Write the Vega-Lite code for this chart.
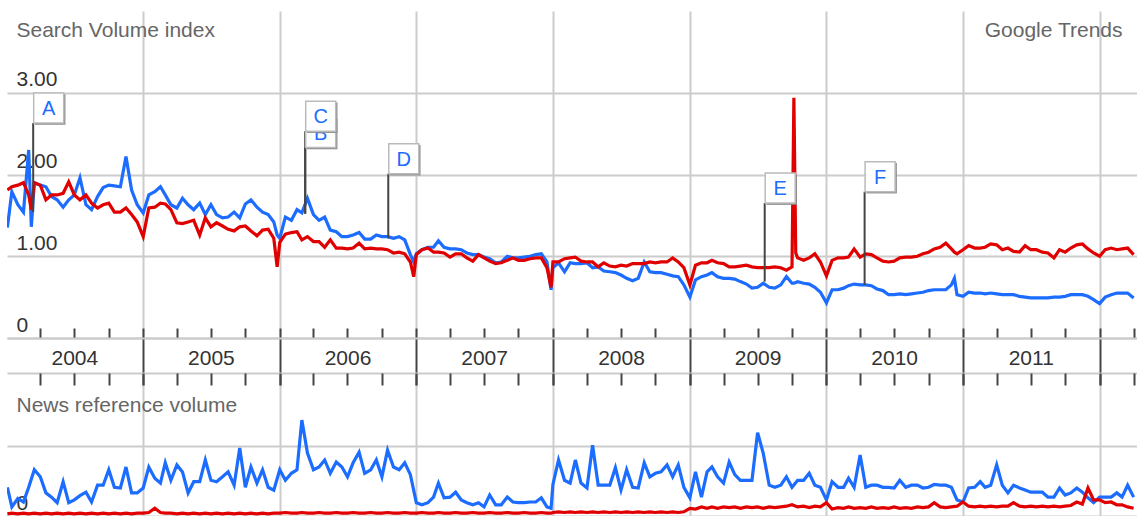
{
"$schema":"https://vega.github.io/schema/vega-lite/v6.json",
"padding":{"left":7,"top":11,"right":0,"bottom":0},
"bounds":"flush",
"spacing":0,
"resolve":{"scale":{"x":"independent","y":"independent"}},
"config":{"view":{"stroke":null},"font":"Liberation Sans"},
"datasets":{
"search":[
{"date":"2004-01-04","Term 1":1.35,"Term 2":1.81},{"date":"2004-01-16","Term 1":1.79,"Term 2":1.85},{"date":"2004-02-01","Term 1":1.63,"Term 2":1.87},{"date":"2004-02-16","Term 1":1.54,"Term 2":1.90},{"date":"2004-03-01","Term 1":2.30,"Term 2":1.75},{"date":"2004-03-08","Term 1":1.36,"Term 2":1.57},{"date":"2004-03-16","Term 1":1.90,"Term 2":1.90},{"date":"2004-04-01","Term 1":1.87,"Term 2":1.87},{"date":"2004-04-16","Term 1":1.85,"Term 2":1.69},{"date":"2004-05-01","Term 1":1.73,"Term 2":1.75},{"date":"2004-05-16","Term 1":1.69,"Term 2":1.75},{"date":"2004-06-01","Term 1":1.60,"Term 2":1.77},{"date":"2004-06-16","Term 1":1.69,"Term 2":1.91},{"date":"2004-07-01","Term 1":1.75,"Term 2":1.75},{"date":"2004-07-16","Term 1":1.96,"Term 2":1.69},{"date":"2004-08-01","Term 1":1.63,"Term 2":1.75},{"date":"2004-08-16","Term 1":1.57,"Term 2":1.65},{"date":"2004-09-01","Term 1":1.73,"Term 2":1.59},{"date":"2004-09-16","Term 1":1.84,"Term 2":1.63},{"date":"2004-10-01","Term 1":1.87,"Term 2":1.65},{"date":"2004-10-16","Term 1":1.86,"Term 2":1.54},{"date":"2004-11-01","Term 1":1.85,"Term 2":1.54},{"date":"2004-11-16","Term 1":2.22,"Term 2":1.59},{"date":"2004-12-01","Term 1":1.81,"Term 2":1.51},{"date":"2004-12-16","Term 1":1.63,"Term 2":1.42},
{"date":"2005-01-01","Term 1":1.53,"Term 2":1.24},{"date":"2005-01-16","Term 1":1.75,"Term 2":1.59},{"date":"2005-02-01","Term 1":1.79,"Term 2":1.60},{"date":"2005-02-16","Term 1":1.85,"Term 2":1.65},{"date":"2005-03-01","Term 1":1.75,"Term 2":1.64},{"date":"2005-03-16","Term 1":1.63,"Term 2":1.57},{"date":"2005-04-01","Term 1":1.59,"Term 2":1.41},{"date":"2005-04-16","Term 1":1.71,"Term 2":1.40},{"date":"2005-05-01","Term 1":1.63,"Term 2":1.42},{"date":"2005-05-16","Term 1":1.57,"Term 2":1.44},{"date":"2005-06-01","Term 1":1.65,"Term 2":1.26},{"date":"2005-06-16","Term 1":1.51,"Term 2":1.47},{"date":"2005-07-01","Term 1":1.63,"Term 2":1.36},{"date":"2005-07-16","Term 1":1.51,"Term 2":1.41},{"date":"2005-08-01","Term 1":1.47,"Term 2":1.37},{"date":"2005-08-16","Term 1":1.48,"Term 2":1.33},{"date":"2005-09-01","Term 1":1.54,"Term 2":1.31},{"date":"2005-09-16","Term 1":1.47,"Term 2":1.36},{"date":"2005-10-01","Term 1":1.64,"Term 2":1.37},{"date":"2005-10-16","Term 1":1.69,"Term 2":1.31},{"date":"2005-11-01","Term 1":1.60,"Term 2":1.25},{"date":"2005-11-16","Term 1":1.54,"Term 2":1.32},{"date":"2005-12-01","Term 1":1.51,"Term 2":1.33},{"date":"2005-12-16","Term 1":1.42,"Term 2":1.22},{"date":"2005-12-25","Term 1":1.26,"Term 2":0.87},
{"date":"2006-01-01","Term 1":1.22,"Term 2":1.17},{"date":"2006-01-16","Term 1":1.48,"Term 2":1.27},{"date":"2006-02-01","Term 1":1.44,"Term 2":1.29},{"date":"2006-02-16","Term 1":1.57,"Term 2":1.30},{"date":"2006-03-01","Term 1":1.53,"Term 2":1.20},{"date":"2006-03-16","Term 1":1.71,"Term 2":1.24},{"date":"2006-04-01","Term 1":1.51,"Term 2":1.18},{"date":"2006-04-16","Term 1":1.44,"Term 2":1.18},{"date":"2006-05-01","Term 1":1.48,"Term 2":1.11},{"date":"2006-05-16","Term 1":1.32,"Term 2":1.20},{"date":"2006-06-01","Term 1":1.30,"Term 2":1.10},{"date":"2006-06-16","Term 1":1.24,"Term 2":1.10},{"date":"2006-07-01","Term 1":1.24,"Term 2":1.09},{"date":"2006-07-16","Term 1":1.26,"Term 2":1.10},{"date":"2006-08-01","Term 1":1.29,"Term 2":1.16},{"date":"2006-08-16","Term 1":1.21,"Term 2":1.09},{"date":"2006-09-01","Term 1":1.21,"Term 2":1.10},{"date":"2006-09-16","Term 1":1.26,"Term 2":1.09},{"date":"2006-10-01","Term 1":1.24,"Term 2":1.09},{"date":"2006-10-16","Term 1":1.24,"Term 2":1.08},{"date":"2006-11-01","Term 1":1.22,"Term 2":1.04},{"date":"2006-11-16","Term 1":1.24,"Term 2":1.05},{"date":"2006-12-01","Term 1":1.20,"Term 2":1.03},{"date":"2006-12-16","Term 1":1.02,"Term 2":0.93},{"date":"2006-12-25","Term 1":0.93,"Term 2":0.75},
{"date":"2007-01-01","Term 1":1.03,"Term 2":1.02},{"date":"2007-01-16","Term 1":1.08,"Term 2":1.08},{"date":"2007-02-01","Term 1":1.11,"Term 2":1.10},{"date":"2007-02-16","Term 1":1.11,"Term 2":1.05},{"date":"2007-03-01","Term 1":1.19,"Term 2":1.05},{"date":"2007-03-16","Term 1":1.11,"Term 2":1.04},{"date":"2007-04-01","Term 1":1.09,"Term 2":0.99},{"date":"2007-04-16","Term 1":1.09,"Term 2":1.03},{"date":"2007-05-01","Term 1":1.08,"Term 2":1.03},{"date":"2007-05-16","Term 1":1.04,"Term 2":0.98},{"date":"2007-06-01","Term 1":1.02,"Term 2":0.94},{"date":"2007-06-16","Term 1":1.02,"Term 2":1.02},{"date":"2007-07-01","Term 1":0.99,"Term 2":0.98},{"date":"2007-07-16","Term 1":0.97,"Term 2":0.94},{"date":"2007-08-01","Term 1":0.92,"Term 2":0.91},{"date":"2007-08-16","Term 1":0.93,"Term 2":0.92},{"date":"2007-09-01","Term 1":1.00,"Term 2":0.95},{"date":"2007-09-16","Term 1":0.98,"Term 2":0.98},{"date":"2007-10-01","Term 1":0.98,"Term 2":0.95},{"date":"2007-10-16","Term 1":0.99,"Term 2":0.95},{"date":"2007-11-01","Term 1":1.00,"Term 2":0.97},{"date":"2007-11-16","Term 1":1.02,"Term 2":0.98},{"date":"2007-12-01","Term 1":1.03,"Term 2":0.98},{"date":"2007-12-16","Term 1":0.93,"Term 2":0.86},{"date":"2007-12-27","Term 1":0.59,"Term 2":0.62},
{"date":"2008-01-01","Term 1":0.86,"Term 2":0.93},{"date":"2008-01-16","Term 1":0.92,"Term 2":0.93},{"date":"2008-02-01","Term 1":0.81,"Term 2":0.97},{"date":"2008-02-16","Term 1":0.92,"Term 2":0.98},{"date":"2008-03-01","Term 1":0.91,"Term 2":0.99},{"date":"2008-03-16","Term 1":0.91,"Term 2":0.94},{"date":"2008-04-01","Term 1":0.92,"Term 2":0.93},{"date":"2008-04-16","Term 1":0.86,"Term 2":0.93},{"date":"2008-05-01","Term 1":0.87,"Term 2":0.87},{"date":"2008-05-16","Term 1":0.82,"Term 2":0.92},{"date":"2008-06-01","Term 1":0.81,"Term 2":0.88},{"date":"2008-06-16","Term 1":0.80,"Term 2":0.87},{"date":"2008-07-01","Term 1":0.77,"Term 2":0.89},{"date":"2008-07-16","Term 1":0.73,"Term 2":0.88},{"date":"2008-08-01","Term 1":0.70,"Term 2":0.91},{"date":"2008-08-16","Term 1":0.73,"Term 2":0.91},{"date":"2008-09-01","Term 1":0.93,"Term 2":0.91},{"date":"2008-09-16","Term 1":0.81,"Term 2":0.93},{"date":"2008-10-01","Term 1":0.80,"Term 2":0.92},{"date":"2008-10-16","Term 1":0.80,"Term 2":0.93},{"date":"2008-11-01","Term 1":0.78,"Term 2":0.93},{"date":"2008-11-16","Term 1":0.76,"Term 2":0.98},{"date":"2008-12-01","Term 1":0.75,"Term 2":0.93},{"date":"2008-12-16","Term 1":0.65,"Term 2":0.86},
{"date":"2009-01-01","Term 1":0.50,"Term 2":0.65},{"date":"2009-01-16","Term 1":0.71,"Term 2":0.89},{"date":"2009-02-01","Term 1":0.75,"Term 2":0.92},{"date":"2009-02-16","Term 1":0.77,"Term 2":0.92},{"date":"2009-03-01","Term 1":0.80,"Term 2":0.95},{"date":"2009-03-16","Term 1":0.75,"Term 2":0.92},{"date":"2009-04-01","Term 1":0.73,"Term 2":0.91},{"date":"2009-04-16","Term 1":0.73,"Term 2":0.87},{"date":"2009-05-01","Term 1":0.72,"Term 2":0.87},{"date":"2009-05-16","Term 1":0.69,"Term 2":0.88},{"date":"2009-06-01","Term 1":0.66,"Term 2":0.89},{"date":"2009-06-16","Term 1":0.61,"Term 2":0.87},{"date":"2009-07-01","Term 1":0.62,"Term 2":0.86},{"date":"2009-07-16","Term 1":0.67,"Term 2":0.86},{"date":"2009-08-01","Term 1":0.62,"Term 2":0.86},{"date":"2009-08-16","Term 1":0.61,"Term 2":0.87},{"date":"2009-09-01","Term 1":0.65,"Term 2":0.86},{"date":"2009-09-16","Term 1":0.75,"Term 2":0.83},{"date":"2009-10-01","Term 1":0.67,"Term 2":0.87},{"date":"2009-10-06","Term 1":0.67,"Term 2":2.94},{"date":"2009-10-11","Term 1":0.68,"Term 2":1.04},{"date":"2009-10-16","Term 1":0.69,"Term 2":0.98},{"date":"2009-11-01","Term 1":0.67,"Term 2":0.95},{"date":"2009-11-16","Term 1":0.66,"Term 2":0.98},{"date":"2009-12-01","Term 1":0.62,"Term 2":1.03},{"date":"2009-12-16","Term 1":0.56,"Term 2":0.93},
{"date":"2010-01-01","Term 1":0.43,"Term 2":0.76},{"date":"2010-01-16","Term 1":0.59,"Term 2":0.95},{"date":"2010-02-01","Term 1":0.59,"Term 2":0.98},{"date":"2010-02-16","Term 1":0.61,"Term 2":0.98},{"date":"2010-03-01","Term 1":0.64,"Term 2":0.99},{"date":"2010-03-16","Term 1":0.66,"Term 2":1.09},{"date":"2010-04-01","Term 1":0.65,"Term 2":0.99},{"date":"2010-04-16","Term 1":0.65,"Term 2":1.03},{"date":"2010-05-01","Term 1":0.64,"Term 2":1.02},{"date":"2010-05-16","Term 1":0.60,"Term 2":0.98},{"date":"2010-06-01","Term 1":0.58,"Term 2":0.94},{"date":"2010-06-16","Term 1":0.53,"Term 2":0.93},{"date":"2010-07-01","Term 1":0.53,"Term 2":0.94},{"date":"2010-07-16","Term 1":0.54,"Term 2":0.98},{"date":"2010-08-01","Term 1":0.53,"Term 2":0.99},{"date":"2010-08-16","Term 1":0.54,"Term 2":0.99},{"date":"2010-09-01","Term 1":0.55,"Term 2":1.00},{"date":"2010-09-16","Term 1":0.56,"Term 2":1.03},{"date":"2010-10-01","Term 1":0.58,"Term 2":1.05},{"date":"2010-10-16","Term 1":0.59,"Term 2":1.09},{"date":"2010-11-01","Term 1":0.59,"Term 2":1.11},{"date":"2010-11-16","Term 1":0.59,"Term 2":1.16},{"date":"2010-12-01","Term 1":0.65,"Term 2":1.09},{"date":"2010-12-09","Term 1":0.73,"Term 2":1.05},{"date":"2010-12-16","Term 1":0.53,"Term 2":1.03},
{"date":"2011-01-01","Term 1":0.51,"Term 2":1.08},{"date":"2011-01-16","Term 1":0.56,"Term 2":1.13},{"date":"2011-02-01","Term 1":0.55,"Term 2":1.10},{"date":"2011-02-16","Term 1":0.55,"Term 2":1.10},{"date":"2011-03-01","Term 1":0.54,"Term 2":1.11},{"date":"2011-03-16","Term 1":0.55,"Term 2":1.15},{"date":"2011-04-01","Term 1":0.54,"Term 2":1.14},{"date":"2011-04-16","Term 1":0.53,"Term 2":1.08},{"date":"2011-05-01","Term 1":0.53,"Term 2":1.10},{"date":"2011-05-16","Term 1":0.53,"Term 2":1.06},{"date":"2011-06-01","Term 1":0.51,"Term 2":1.05},{"date":"2011-06-16","Term 1":0.50,"Term 2":1.13},{"date":"2011-07-01","Term 1":0.49,"Term 2":1.08},{"date":"2011-07-16","Term 1":0.49,"Term 2":1.08},{"date":"2011-08-01","Term 1":0.49,"Term 2":1.05},{"date":"2011-08-16","Term 1":0.49,"Term 2":1.04},{"date":"2011-09-01","Term 1":0.50,"Term 2":0.98},{"date":"2011-09-16","Term 1":0.50,"Term 2":1.08},{"date":"2011-10-01","Term 1":0.51,"Term 2":1.05},{"date":"2011-10-16","Term 1":0.53,"Term 2":1.10},{"date":"2011-11-01","Term 1":0.53,"Term 2":1.14},{"date":"2011-11-16","Term 1":0.53,"Term 2":1.15},{"date":"2011-12-01","Term 1":0.51,"Term 2":1.09},{"date":"2011-12-16","Term 1":0.47,"Term 2":1.04},
{"date":"2012-01-01","Term 1":0.42,"Term 2":1.00},{"date":"2012-01-16","Term 1":0.50,"Term 2":1.08},{"date":"2012-02-01","Term 1":0.53,"Term 2":1.10},{"date":"2012-02-16","Term 1":0.55,"Term 2":1.08},{"date":"2012-03-01","Term 1":0.55,"Term 2":1.09},{"date":"2012-03-16","Term 1":0.55,"Term 2":1.10},{"date":"2012-04-01","Term 1":0.49,"Term 2":1.02}
],
"news":[
{"date":"2004-01-04","Term 1":0.41,"Term 2":0.03},{"date":"2004-01-16","Term 1":0.13,"Term 2":0.04},{"date":"2004-02-01","Term 1":0.25,"Term 2":0.03},{"date":"2004-02-16","Term 1":0.20,"Term 2":0.04},{"date":"2004-03-01","Term 1":0.41,"Term 2":0.03},{"date":"2004-03-16","Term 1":0.66,"Term 2":0.04},{"date":"2004-04-01","Term 1":0.56,"Term 2":0.03},{"date":"2004-04-16","Term 1":0.33,"Term 2":0.04},{"date":"2004-05-01","Term 1":0.27,"Term 2":0.03},{"date":"2004-05-16","Term 1":0.19,"Term 2":0.04},{"date":"2004-06-01","Term 1":0.49,"Term 2":0.03},{"date":"2004-06-16","Term 1":0.19,"Term 2":0.04},{"date":"2004-07-01","Term 1":0.23,"Term 2":0.03},{"date":"2004-07-16","Term 1":0.29,"Term 2":0.04},{"date":"2004-08-01","Term 1":0.34,"Term 2":0.03},{"date":"2004-08-16","Term 1":0.20,"Term 2":0.04},{"date":"2004-09-01","Term 1":0.44,"Term 2":0.03},{"date":"2004-09-16","Term 1":0.44,"Term 2":0.04},{"date":"2004-10-01","Term 1":0.66,"Term 2":0.03},{"date":"2004-10-16","Term 1":0.41,"Term 2":0.04},{"date":"2004-11-01","Term 1":0.40,"Term 2":0.03},{"date":"2004-11-16","Term 1":0.70,"Term 2":0.04},{"date":"2004-12-01","Term 1":0.33,"Term 2":0.03},{"date":"2004-12-16","Term 1":0.33,"Term 2":0.04},
{"date":"2005-01-01","Term 1":0.40,"Term 2":0.04},{"date":"2005-01-16","Term 1":0.70,"Term 2":0.05},{"date":"2005-02-01","Term 1":0.54,"Term 2":0.11},{"date":"2005-02-16","Term 1":0.47,"Term 2":0.05},{"date":"2005-03-01","Term 1":0.76,"Term 2":0.04},{"date":"2005-03-16","Term 1":0.51,"Term 2":0.04},{"date":"2005-04-01","Term 1":0.73,"Term 2":0.03},{"date":"2005-04-16","Term 1":0.63,"Term 2":0.04},{"date":"2005-05-01","Term 1":0.33,"Term 2":0.03},{"date":"2005-05-16","Term 1":0.49,"Term 2":0.04},{"date":"2005-06-01","Term 1":0.49,"Term 2":0.03},{"date":"2005-06-16","Term 1":0.80,"Term 2":0.04},{"date":"2005-07-01","Term 1":0.51,"Term 2":0.03},{"date":"2005-07-16","Term 1":0.49,"Term 2":0.04},{"date":"2005-08-01","Term 1":0.56,"Term 2":0.03},{"date":"2005-08-16","Term 1":0.63,"Term 2":0.04},{"date":"2005-09-01","Term 1":0.44,"Term 2":0.03},{"date":"2005-09-16","Term 1":0.97,"Term 2":0.04},{"date":"2005-10-01","Term 1":0.41,"Term 2":0.03},{"date":"2005-10-16","Term 1":0.70,"Term 2":0.04},{"date":"2005-11-01","Term 1":0.47,"Term 2":0.03},{"date":"2005-11-16","Term 1":0.66,"Term 2":0.04},{"date":"2005-12-01","Term 1":0.41,"Term 2":0.03},{"date":"2005-12-16","Term 1":0.37,"Term 2":0.04},
{"date":"2006-01-01","Term 1":0.66,"Term 2":0.04},{"date":"2006-01-16","Term 1":0.51,"Term 2":0.05},{"date":"2006-02-01","Term 1":0.61,"Term 2":0.04},{"date":"2006-02-16","Term 1":0.66,"Term 2":0.04},{"date":"2006-03-01","Term 1":1.37,"Term 2":0.05},{"date":"2006-03-16","Term 1":0.90,"Term 2":0.04},{"date":"2006-04-01","Term 1":0.66,"Term 2":0.04},{"date":"2006-04-16","Term 1":0.70,"Term 2":0.05},{"date":"2006-05-01","Term 1":0.80,"Term 2":0.04},{"date":"2006-05-16","Term 1":0.61,"Term 2":0.04},{"date":"2006-06-01","Term 1":0.77,"Term 2":0.05},{"date":"2006-06-16","Term 1":0.70,"Term 2":0.04},{"date":"2006-07-01","Term 1":0.56,"Term 2":0.04},{"date":"2006-07-16","Term 1":0.76,"Term 2":0.05},{"date":"2006-08-01","Term 1":0.91,"Term 2":0.04},{"date":"2006-08-16","Term 1":0.61,"Term 2":0.04},{"date":"2006-09-01","Term 1":0.66,"Term 2":0.05},{"date":"2006-09-16","Term 1":0.80,"Term 2":0.04},{"date":"2006-10-01","Term 1":0.56,"Term 2":0.04},{"date":"2006-10-16","Term 1":0.94,"Term 2":0.05},{"date":"2006-11-01","Term 1":0.70,"Term 2":0.04},{"date":"2006-11-16","Term 1":0.66,"Term 2":0.04},{"date":"2006-12-01","Term 1":0.76,"Term 2":0.05},{"date":"2006-12-16","Term 1":0.59,"Term 2":0.04},
{"date":"2007-01-01","Term 1":0.19,"Term 2":0.04},{"date":"2007-01-16","Term 1":0.16,"Term 2":0.05},{"date":"2007-02-01","Term 1":0.19,"Term 2":0.04},{"date":"2007-02-16","Term 1":0.27,"Term 2":0.04},{"date":"2007-03-01","Term 1":0.47,"Term 2":0.05},{"date":"2007-03-16","Term 1":0.26,"Term 2":0.04},{"date":"2007-04-01","Term 1":0.27,"Term 2":0.04},{"date":"2007-04-16","Term 1":0.34,"Term 2":0.05},{"date":"2007-05-01","Term 1":0.23,"Term 2":0.04},{"date":"2007-05-16","Term 1":0.19,"Term 2":0.04},{"date":"2007-06-01","Term 1":0.16,"Term 2":0.05},{"date":"2007-06-16","Term 1":0.19,"Term 2":0.04},{"date":"2007-07-01","Term 1":0.13,"Term 2":0.04},{"date":"2007-07-16","Term 1":0.30,"Term 2":0.05},{"date":"2007-08-01","Term 1":0.16,"Term 2":0.04},{"date":"2007-08-16","Term 1":0.16,"Term 2":0.04},{"date":"2007-09-01","Term 1":0.27,"Term 2":0.05},{"date":"2007-09-16","Term 1":0.20,"Term 2":0.04},{"date":"2007-10-01","Term 1":0.19,"Term 2":0.04},{"date":"2007-10-16","Term 1":0.19,"Term 2":0.05},{"date":"2007-11-01","Term 1":0.20,"Term 2":0.04},{"date":"2007-11-16","Term 1":0.20,"Term 2":0.04},{"date":"2007-12-01","Term 1":0.26,"Term 2":0.05},{"date":"2007-12-16","Term 1":0.13,"Term 2":0.04},{"date":"2007-12-27","Term 1":0.11,"Term 2":0.04},
{"date":"2008-01-01","Term 1":0.45,"Term 2":0.05},{"date":"2008-01-16","Term 1":0.80,"Term 2":0.06},{"date":"2008-02-01","Term 1":0.51,"Term 2":0.05},{"date":"2008-02-16","Term 1":0.47,"Term 2":0.06},{"date":"2008-03-01","Term 1":0.80,"Term 2":0.05},{"date":"2008-03-16","Term 1":0.47,"Term 2":0.06},{"date":"2008-04-01","Term 1":0.40,"Term 2":0.05},{"date":"2008-04-16","Term 1":1.01,"Term 2":0.06},{"date":"2008-05-01","Term 1":0.44,"Term 2":0.05},{"date":"2008-05-16","Term 1":0.44,"Term 2":0.06},{"date":"2008-06-01","Term 1":0.44,"Term 2":0.05},{"date":"2008-06-16","Term 1":0.69,"Term 2":0.06},{"date":"2008-07-01","Term 1":0.37,"Term 2":0.05},{"date":"2008-07-16","Term 1":0.66,"Term 2":0.06},{"date":"2008-08-01","Term 1":0.41,"Term 2":0.05},{"date":"2008-08-16","Term 1":0.40,"Term 2":0.06},{"date":"2008-09-01","Term 1":0.76,"Term 2":0.05},{"date":"2008-09-16","Term 1":0.56,"Term 2":0.06},{"date":"2008-10-01","Term 1":0.61,"Term 2":0.05},{"date":"2008-10-16","Term 1":0.63,"Term 2":0.06},{"date":"2008-11-01","Term 1":0.73,"Term 2":0.05},{"date":"2008-11-16","Term 1":0.56,"Term 2":0.06},{"date":"2008-12-01","Term 1":0.73,"Term 2":0.05},{"date":"2008-12-16","Term 1":0.41,"Term 2":0.06},
{"date":"2009-01-01","Term 1":0.26,"Term 2":0.11},{"date":"2009-01-16","Term 1":0.63,"Term 2":0.10},{"date":"2009-02-01","Term 1":0.27,"Term 2":0.13},{"date":"2009-02-16","Term 1":0.63,"Term 2":0.11},{"date":"2009-03-01","Term 1":0.70,"Term 2":0.13},{"date":"2009-03-16","Term 1":0.56,"Term 2":0.11},{"date":"2009-04-01","Term 1":0.47,"Term 2":0.13},{"date":"2009-04-16","Term 1":0.77,"Term 2":0.12},{"date":"2009-05-01","Term 1":0.59,"Term 2":0.13},{"date":"2009-05-16","Term 1":0.51,"Term 2":0.11},{"date":"2009-06-01","Term 1":0.51,"Term 2":0.13},{"date":"2009-06-16","Term 1":0.51,"Term 2":0.12},{"date":"2009-07-01","Term 1":1.19,"Term 2":0.13},{"date":"2009-07-16","Term 1":0.90,"Term 2":0.11},{"date":"2009-08-01","Term 1":0.44,"Term 2":0.13},{"date":"2009-08-16","Term 1":0.41,"Term 2":0.12},{"date":"2009-09-01","Term 1":0.44,"Term 2":0.13},{"date":"2009-09-16","Term 1":0.56,"Term 2":0.14},{"date":"2009-10-01","Term 1":0.41,"Term 2":0.16},{"date":"2009-10-16","Term 1":0.51,"Term 2":0.13},{"date":"2009-11-01","Term 1":0.51,"Term 2":0.14},{"date":"2009-11-16","Term 1":0.61,"Term 2":0.12},{"date":"2009-12-01","Term 1":0.44,"Term 2":0.14},{"date":"2009-12-16","Term 1":0.41,"Term 2":0.13},
{"date":"2010-01-01","Term 1":0.23,"Term 2":0.19},{"date":"2010-01-16","Term 1":0.49,"Term 2":0.10},{"date":"2010-02-01","Term 1":0.41,"Term 2":0.12},{"date":"2010-02-16","Term 1":0.41,"Term 2":0.11},{"date":"2010-03-01","Term 1":0.54,"Term 2":0.13},{"date":"2010-03-16","Term 1":0.41,"Term 2":0.11},{"date":"2010-04-01","Term 1":0.87,"Term 2":0.12},{"date":"2010-04-16","Term 1":0.41,"Term 2":0.11},{"date":"2010-05-01","Term 1":0.44,"Term 2":0.13},{"date":"2010-05-16","Term 1":0.44,"Term 2":0.11},{"date":"2010-06-01","Term 1":0.41,"Term 2":0.12},{"date":"2010-06-16","Term 1":0.41,"Term 2":0.11},{"date":"2010-07-01","Term 1":0.40,"Term 2":0.13},{"date":"2010-07-16","Term 1":0.51,"Term 2":0.11},{"date":"2010-08-01","Term 1":0.41,"Term 2":0.12},{"date":"2010-08-16","Term 1":0.44,"Term 2":0.11},{"date":"2010-09-01","Term 1":0.44,"Term 2":0.13},{"date":"2010-09-16","Term 1":0.40,"Term 2":0.12},{"date":"2010-10-01","Term 1":0.41,"Term 2":0.13},{"date":"2010-10-16","Term 1":0.45,"Term 2":0.19},{"date":"2010-11-01","Term 1":0.44,"Term 2":0.13},{"date":"2010-11-16","Term 1":0.44,"Term 2":0.12},{"date":"2010-12-01","Term 1":0.41,"Term 2":0.13},{"date":"2010-12-16","Term 1":0.23,"Term 2":0.14},
{"date":"2011-01-01","Term 1":0.20,"Term 2":0.20},{"date":"2011-01-16","Term 1":0.40,"Term 2":0.14},{"date":"2011-02-01","Term 1":0.41,"Term 2":0.13},{"date":"2011-02-16","Term 1":0.49,"Term 2":0.14},{"date":"2011-03-01","Term 1":0.41,"Term 2":0.13},{"date":"2011-03-16","Term 1":0.44,"Term 2":0.14},{"date":"2011-04-01","Term 1":0.73,"Term 2":0.13},{"date":"2011-04-16","Term 1":0.44,"Term 2":0.14},{"date":"2011-05-01","Term 1":0.33,"Term 2":0.14},{"date":"2011-05-16","Term 1":0.44,"Term 2":0.19},{"date":"2011-06-01","Term 1":0.40,"Term 2":0.14},{"date":"2011-06-16","Term 1":0.37,"Term 2":0.13},{"date":"2011-07-01","Term 1":0.34,"Term 2":0.14},{"date":"2011-07-16","Term 1":0.34,"Term 2":0.13},{"date":"2011-08-01","Term 1":0.34,"Term 2":0.14},{"date":"2011-08-16","Term 1":0.27,"Term 2":0.13},{"date":"2011-09-01","Term 1":0.27,"Term 2":0.14},{"date":"2011-09-16","Term 1":0.40,"Term 2":0.13},{"date":"2011-10-01","Term 1":0.30,"Term 2":0.14},{"date":"2011-10-16","Term 1":0.33,"Term 2":0.15},{"date":"2011-11-01","Term 1":0.40,"Term 2":0.20},{"date":"2011-11-16","Term 1":0.34,"Term 2":0.17},{"date":"2011-12-01","Term 1":0.26,"Term 2":0.40},{"date":"2011-12-16","Term 1":0.19,"Term 2":0.23},
{"date":"2012-01-01","Term 1":0.27,"Term 2":0.23},{"date":"2012-01-16","Term 1":0.27,"Term 2":0.19},{"date":"2012-02-01","Term 1":0.27,"Term 2":0.20},{"date":"2012-02-16","Term 1":0.33,"Term 2":0.16},{"date":"2012-03-01","Term 1":0.27,"Term 2":0.16},{"date":"2012-03-16","Term 1":0.44,"Term 2":0.13},{"date":"2012-04-01","Term 1":0.27,"Term 2":0.11}
],
"flags":[
{"label":"A","date":"2004-03-13","value":1.54,"flag":2.63},
{"label":"B","date":"2006-03-10","value":1.52,"flag":2.33},
{"label":"C","date":"2006-03-10","value":1.52,"flag":2.53},
{"label":"D","date":"2006-10-18","value":1.22,"flag":2.01},
{"label":"E","date":"2009-07-20","value":0.69,"flag":1.65},
{"label":"F","date":"2010-04-13","value":0.65,"flag":1.79}
]
},
"vconcat":[
{
"width":1130,"height":327,
"layer":[
{
"data":{"name":"search"},
"transform":[{"fold":["Term 1","Term 2"],"as":["term","value"]}],
"mark":{"type":"line","strokeWidth":3.2,"clip":true},
"encoding":{
"x":{"field":"date","type":"temporal","scale":{"type":"utc","domain":[{"year":2004,"month":1,"date":3,"utc":true},{"year":2012,"month":4,"date":10,"utc":true}]},"axis":{"orient":"top","tickCount":"year","grid":true,"gridColor":"#cccccc","gridWidth":2,"ticks":false,"labels":false,"domain":false,"title":"Google Trends","titleX":1115,"titleY":25,"titleAlign":"right","titleBaseline":"alphabetic","titleAngle":0,"titleFontSize":21,"titleFontWeight":"normal","titleColor":"#666"}},
"y":{"field":"value","type":"quantitative","scale":{"domain":[0,4]},"axis":{"values":[0,1,2,3],"grid":true,"gridColor":"#cccccc","gridWidth":2,"ticks":false,"domain":false,"title":"Search Volume index","titleX":9,"titleY":25,"titleAlign":"left","titleBaseline":"alphabetic","titleAngle":0,"titleFontSize":21,"titleFontWeight":"normal","titleColor":"#666","labelExpr":"datum.value === 0 ? '0' : format(datum.value, '.2f')","labelAlign":"left","labelBaseline":"alphabetic","labelPadding":-9,"labelOffset":-7,"labelFontSize":21,"labelColor":"#333"}},
"color":{"field":"term","type":"nominal","scale":{"domain":["Term 1","Term 2"],"range":["#1b6cff","#e00000"]},"legend":null}
}
},
{
"data":{"name":"flags"},
"mark":{"type":"rule","color":"#444","strokeWidth":2},
"encoding":{"x":{"field":"date","type":"temporal"},"y":{"field":"value","type":"quantitative"},"y2":{"field":"flag"}}
},
{
"data":{"name":"flags"},
"transform":[{"filter":"datum.label !== 'C'"}],
"layer":[
{"mark":{"type":"point","shape":"square","filled":true,"color":"#8c8c8c","opacity":1,"size":930,"xOffset":17,"yOffset":-13.5},
"encoding":{"x":{"field":"date","type":"temporal"},"y":{"field":"flag","type":"quantitative"}}},
{"mark":{"type":"point","shape":"square","filled":true,"fill":"#ffffff","stroke":"#bbbbbb","strokeWidth":1.5,"opacity":1,"size":900,"xOffset":15.5,"yOffset":-15},
"encoding":{"x":{"field":"date","type":"temporal"},"y":{"field":"flag","type":"quantitative"}}},
{"mark":{"type":"text","fontSize":20,"color":"#1b6cff","align":"center","baseline":"middle","xOffset":15.5,"yOffset":-14},
"encoding":{"x":{"field":"date","type":"temporal"},"y":{"field":"flag","type":"quantitative"},"text":{"field":"label"}}}
]
},
{
"data":{"name":"flags"},
"transform":[{"filter":"datum.label === 'C'"}],
"layer":[
{"mark":{"type":"point","shape":"square","filled":true,"color":"#8c8c8c","opacity":1,"size":930,"xOffset":17,"yOffset":-13.5},
"encoding":{"x":{"field":"date","type":"temporal"},"y":{"field":"flag","type":"quantitative"}}},
{"mark":{"type":"point","shape":"square","filled":true,"fill":"#ffffff","stroke":"#bbbbbb","strokeWidth":1.5,"opacity":1,"size":900,"xOffset":15.5,"yOffset":-15},
"encoding":{"x":{"field":"date","type":"temporal"},"y":{"field":"flag","type":"quantitative"}}},
{"mark":{"type":"text","fontSize":20,"color":"#1b6cff","align":"center","baseline":"middle","xOffset":15.5,"yOffset":-14},
"encoding":{"x":{"field":"date","type":"temporal"},"y":{"field":"flag","type":"quantitative"},"text":{"field":"label"}}}
]
}
]
},
{
"width":1130,"height":47,
"data":{"name":"flags"},
"mark":{"type":"point","opacity":0,"size":0},
"encoding":{
"x":{"field":"date","type":"temporal","scale":{"type":"utc","domain":[{"year":2004,"month":1,"date":3,"utc":true},{"year":2012,"month":4,"date":10,"utc":true}]},"axis":{"orient":"top","tickCount":{"interval":"month","step":3},"domain":true,"domainColor":"#cccccc","domainWidth":2,"ticks":true,"tickColor":"#444","tickWidth":2,"tickSize":10,"labelExpr":"utcmonth(datum.value) === 6 ? utcFormat(datum.value, '%Y') : ''","labelPadding":-30,"labelBaseline":"middle","labelAlign":"center","labelFontSize":21,"labelColor":"#333","labelFlush":false,"labelOverlap":false,"labelBound":false,"grid":true,"gridColor":{"condition":{"test":"utcmonth(datum.value) === 0","value":"#444"},"value":"transparent"},"gridWidth":2,"title":null}},
"y":{"datum":0,"type":"quantitative","scale":{"domain":[0,47]},"axis":{"values":[12],"grid":true,"gridColor":"#cccccc","gridWidth":2,"labels":false,"ticks":false,"domain":false,"title":null}}
}
},
{
"width":1130,"height":131,
"data":{"name":"news"},
"transform":[{"fold":["Term 1","Term 2"],"as":["term","value"]}],
"mark":{"type":"line","strokeWidth":3.2,"clip":true},
"encoding":{
"x":{"field":"date","type":"temporal","scale":{"type":"utc","domain":[{"year":2004,"month":1,"date":3,"utc":true},{"year":2012,"month":4,"date":10,"utc":true}]},"axis":{"orient":"top","tickCount":{"interval":"month","step":3},"domain":false,"ticks":true,"tickColor":"#444","tickWidth":2,"tickSize":12,"labels":false,"grid":true,"gridColor":{"condition":{"test":"utcmonth(datum.value) === 0","value":"#cccccc"},"value":"transparent"},"gridWidth":2,"title":null}},
"y":{"field":"value","type":"quantitative","scale":{"domain":[0,1.871]},"axis":{"values":[0,1],"grid":true,"gridColor":"#cccccc","gridWidth":2,"ticks":false,"domain":false,"title":"News reference volume","titleX":9,"titleY":26,"titleAlign":"left","titleBaseline":"alphabetic","titleAngle":0,"titleFontSize":21,"titleFontWeight":"normal","titleColor":"#666","labelExpr":"datum.value === 0 ? '0' : ''","labelAlign":"left","labelBaseline":"alphabetic","labelPadding":-9,"labelOffset":-7,"labelFontSize":21,"labelColor":"#333"}},
"color":{"field":"term","type":"nominal","scale":{"domain":["Term 1","Term 2"],"range":["#1b6cff","#e00000"]},"legend":null}
}
}
]
}
